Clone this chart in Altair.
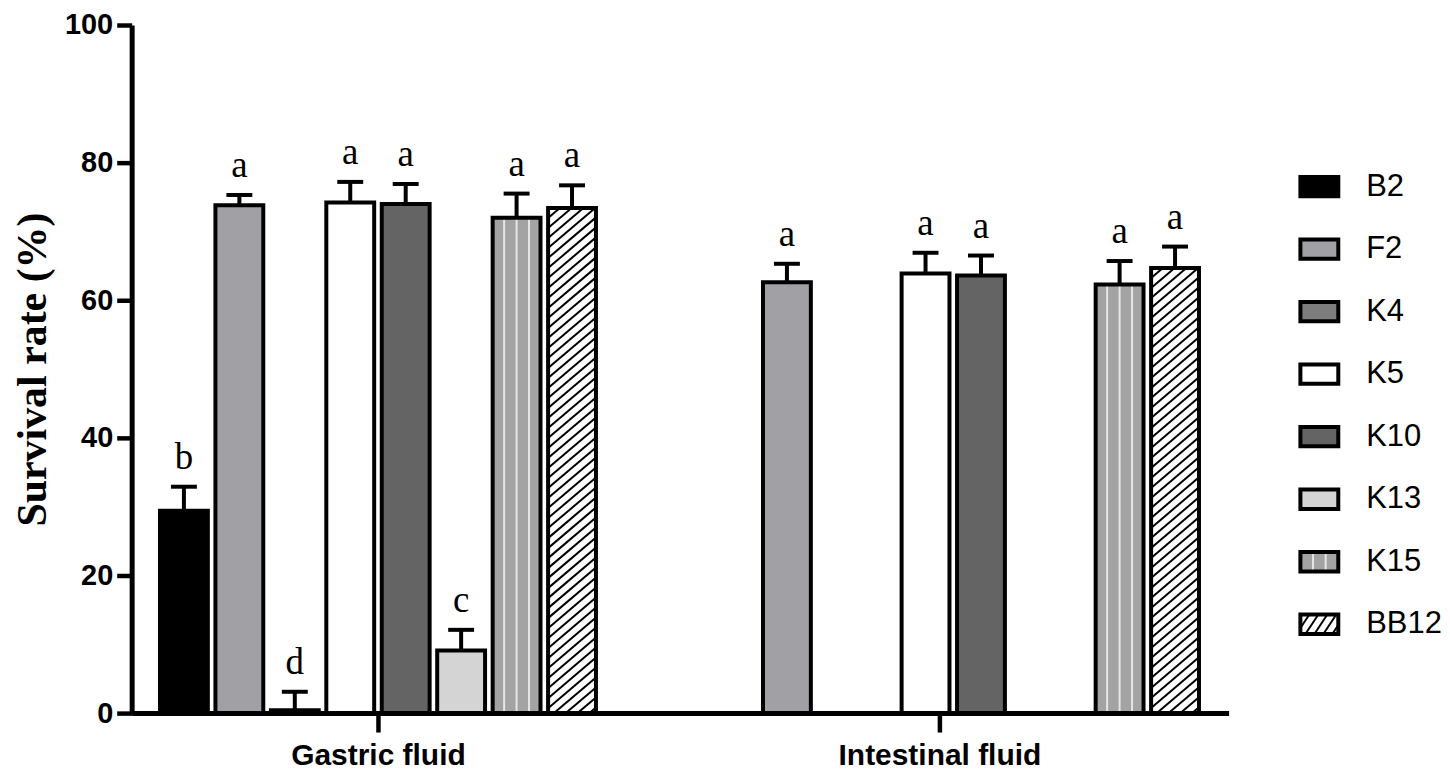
import altair as alt
import pandas as pd

# ---------------- data ----------------
strains = ["B2", "F2", "K4", "K5", "K10", "K13", "K15", "BB12"]
groups = ["Gastric fluid", "Intestinal fluid"]

gastric_strains = ["B2", "F2", "K4", "K5", "K10", "K13", "K15", "BB12"]
gastric_mean = [29.4, 73.8, 0.4, 74.2, 74.0, 9.1, 72.0, 73.4]
gastric_sd = [3.5, 1.5, 2.7, 3.0, 2.9, 3.0, 3.5, 3.3]
gastric_letters = ["b", "a", "d", "a", "a", "c", "a", "a"]

intestinal_strains = ["F2", "K5", "K10", "K15", "BB12"]
intestinal_mean = [62.6, 63.9, 63.6, 62.3, 64.7]
intestinal_sd = [2.7, 3.0, 2.9, 3.4, 3.1]
intestinal_letters = ["a", "a", "a", "a", "a"]

y_ticks = [0, 20, 40, 60, 80, 100]

# ---------------- styles / layout ----------------
fill_colors = ["#000000", "#a1a1a5", "#7d7d7d", "#ffffff", "#646464",
               "#d4d4d4", "#a3a3a3", "#ffffff"]
STRIPED = "K15"
HATCHED = "BB12"

PLOT_W, PLOT_H = 1100, 690
SLOT = 55.6          # px per bar slot
BAR_W = 48           # bar geometry width (stroke adds 4)
CAP_W = 26
PX_PER_UNIT = PLOT_H / 100.0
group_centers = [247.0, 810.0]
gastric_slots = [-3.5, -2.5, -1.5, -0.5, 0.5, 1.5, 2.5, 3.5]
intestinal_slots = [-2.75, -0.25, 0.75, 3.25, 4.25]

rows = []
for gi, (g, names, means, sds, letters, slots) in enumerate([
    (groups[0], gastric_strains, gastric_mean, gastric_sd, gastric_letters, gastric_slots),
    (groups[1], intestinal_strains, intestinal_mean, intestinal_sd, intestinal_letters, intestinal_slots),
]):
    for n, m, s, l, sl in zip(names, means, sds, letters, slots):
        xc = group_centers[gi] + sl * SLOT
        rows.append(dict(group=g, strain=n, mean=m, sd=s, letter=l, xc=xc,
                         x0=xc - BAR_W / 2, x1=xc + BAR_W / 2, top=m + s,
                         cx0=xc - CAP_W / 2, cx1=xc + CAP_W / 2, zero=0.0))
df = pd.DataFrame(rows)


def hatch_segments(x0, x1, h, slope, step):
    """diagonal '/' lines inside [x0,x1] x [0,h] (px, y up)"""
    segs = []
    c = x0 - h / slope
    while c < x1:
        xs = max(x0, c)
        xe = min(x1, c + h / slope)
        if xe > xs:
            segs.append((xs, slope * (xs - c), xe, slope * (xe - c)))
        c += step
    return segs


# patterns for main bars
stripe_rows, hatch_rows = [], []
for r in rows:
    if r["strain"] == STRIPED:
        for off in (-12.5, 0.0, 12.5):
            stripe_rows.append(dict(x=r["xc"] + off, y0=0.0, y1=r["mean"]))
    if r["strain"] == HATCHED:
        for xs, ys, xe, ye in hatch_segments(r["x0"], r["x1"], r["mean"] * PX_PER_UNIT, 0.85, 11.8):
            hatch_rows.append(dict(hx0=xs, hy0=ys / PX_PER_UNIT, hx1=xe, hy1=ye / PX_PER_UNIT))
stripes_df = pd.DataFrame(stripe_rows)
hatch_df = pd.DataFrame(hatch_rows)

# ---------------- main chart ----------------
xscale = alt.Scale(domain=[0, PLOT_W], nice=False, zero=False)
yscale = alt.Scale(domain=[0, 100], nice=False)
label_expr = (f"datum.value == {group_centers[0]} ? '{groups[0]}' : '{groups[1]}'")
xaxis = alt.Axis(values=group_centers, labelExpr=label_expr, title=None, grid=False,
                 tickSize=19, tickWidth=4.5, tickColor="black", domainColor="black",
                 domainWidth=5, labelFont="Liberation Sans", labelFontWeight="bold",
                 labelFontSize=30, labelColor="black", labelPadding=9, labelFlush=False,
                 labelLimit=0, labelOverlap=False)
yaxis = alt.Axis(values=y_ticks, title="Survival rate (%)", grid=False,
                 tickSize=15, tickWidth=4.5, tickColor="black", domainColor="black",
                 domainWidth=5, labelFont="Liberation Sans", labelFontWeight="bold",
                 labelFontSize=29, labelColor="black", labelPadding=4,
                 titleFont="Liberation Serif", titleFontWeight="bold", titleFontSize=42,
                 titleColor="black", titlePadding=10)


def X(f):
    return alt.X(f, type="quantitative", scale=xscale, axis=xaxis)


def Y(f):
    return alt.Y(f, type="quantitative", scale=yscale, axis=yaxis)


fill_enc = alt.Fill("strain:N", scale=alt.Scale(domain=strains, range=fill_colors), legend=None)

bars_fill = alt.Chart(df).mark_rect(strokeWidth=0).encode(
    x=X("x0"), x2="x1", y=Y("mean"), y2="zero", fill=fill_enc)
stripes = alt.Chart(stripes_df).mark_rule(color="#e6e6e6", strokeWidth=2).encode(
    x=X("x"), y=Y("y0"), y2="y1")
hatch = alt.Chart(hatch_df).mark_rule(color="black", strokeWidth=2).encode(
    x=X("hx0"), x2="hx1", y=Y("hy0"), y2="hy1")
bars_outline = alt.Chart(df).mark_rect(fill="white", fillOpacity=0, stroke="black", strokeWidth=4).encode(
    x=X("x0"), x2="x1", y=Y("mean"), y2="zero")
stems = alt.Chart(df).mark_rule(color="black", strokeWidth=4).encode(
    x=X("xc"), y=Y("mean"), y2="top")
caps = alt.Chart(df).mark_rule(color="black", strokeWidth=4).encode(
    x=X("cx0"), x2="cx1", y=Y("top"))
letters_layer = alt.Chart(df).mark_text(font="Liberation Serif", fontSize=37, color="black",
                                        baseline="alphabetic", align="center", dy=-18).encode(
    x=X("xc"), y=Y("top"), text="letter:N")

main = alt.layer(bars_fill, stripes, hatch, bars_outline, stems, caps, letters_layer).properties(
    width=PLOT_W, height=PLOT_H)

# ---------------- legend panel ----------------
LEG_W = 140
ROW_PX = 62.7
FIRST_ROW_PX = 162.0
SW_X0, SW_X1 = 12.0, 50.0
SW_HALF = 0.155
leg_rows = [dict(strain=s, i=i, y0=i - SW_HALF, y1=i + SW_HALF, sx0=SW_X0, sx1=SW_X1, tx=78.0)
            for i, s in enumerate(strains)]
leg_df = pd.DataFrame(leg_rows)

leg_stripes, leg_hatch = [], []
for r in leg_rows:
    if r["strain"] == STRIPED:
        for k in (1, 2):
            xx = SW_X0 + (SW_X1 - SW_X0) * k / 3
            leg_stripes.append(dict(x=xx, y0=r["y0"], y1=r["y1"]))
    if r["strain"] == HATCHED:
        hpx = 2 * SW_HALF * ROW_PX
        for xs, ys, xe, ye in hatch_segments(SW_X0, SW_X1, hpx, 1.5, 9.0):
            leg_hatch.append(dict(hx0=xs, hy0=r["y1"] - ys / ROW_PX, hx1=xe, hy1=r["y1"] - ye / ROW_PX))
leg_stripes_df = pd.DataFrame(leg_stripes)
leg_hatch_df = pd.DataFrame(leg_hatch)

d0 = -FIRST_ROW_PX / ROW_PX
d1 = d0 + PLOT_H / ROW_PX
lx = alt.Scale(domain=[0, LEG_W], nice=False, zero=False)
ly = alt.Scale(domain=[d0, d1], nice=False, zero=False, reverse=True)


def LX(f):
    return alt.X(f, type="quantitative", scale=lx, axis=None)


def LY(f):
    return alt.Y(f, type="quantitative", scale=ly, axis=None)


leg_fill = alt.Chart(leg_df).mark_rect(strokeWidth=0).encode(
    x=LX("sx0"), x2="sx1", y=LY("y0"), y2="y1", fill=fill_enc)
leg_str = alt.Chart(leg_stripes_df).mark_rule(color="#e6e6e6", strokeWidth=2).encode(
    x=LX("x"), y=LY("y0"), y2="y1")
leg_hat = alt.Chart(leg_hatch_df).mark_rule(color="black", strokeWidth=2).encode(
    x=LX("hx0"), x2="hx1", y=LY("hy0"), y2="hy1")
leg_out = alt.Chart(leg_df).mark_rect(fill="white", fillOpacity=0, stroke="black", strokeWidth=4).encode(
    x=LX("sx0"), x2="sx1", y=LY("y0"), y2="y1")
leg_txt = alt.Chart(leg_df).mark_text(font="Liberation Sans", fontSize=31, color="black",
                                      align="left", baseline="middle").encode(
    x=LX("tx"), y=LY("i"), text="strain:N")

legend_panel = alt.layer(leg_fill, leg_str, leg_hat, leg_out, leg_txt).properties(
    width=LEG_W, height=PLOT_H)

chart = alt.hconcat(main, legend_panel, spacing=60, bounds="flush").configure_view(
    stroke=None).properties(padding={"left": 3, "top": 2, "right": 0, "bottom": 0},
                            background="white")

chart.save("out.html", embed_options={"renderer": "svg", "actions": False})
